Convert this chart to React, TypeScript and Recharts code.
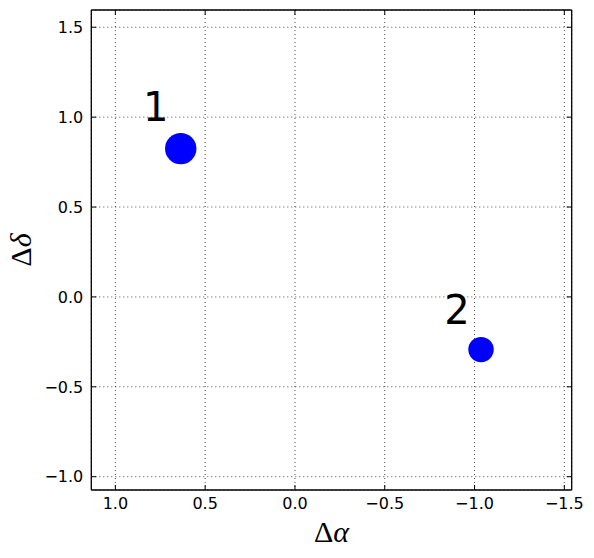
import { ScatterChart, Scatter, XAxis, YAxis, CartesianGrid } from "recharts";

// source positions (offsets in arcsec)
const sourceIds = ["1", "2"];
const deltaAlpha = [0.636, -1.036];
const deltaDelta = [0.825, -0.293];
const markerRadius = [15.7, 12.7];

// where the id labels sit
const labelAlpha = [0.846, -0.832];
const labelDelta = [0.979, -0.148];

const xTicks = [1.0, 0.5, 0.0, -0.5, -1.0, -1.5];
const yTicks = [-1.0, -0.5, 0.0, 0.5, 1.0, 1.5];
const xDomain = [-1.541, 1.134];
const yDomain = [-1.074, 1.596];

const points = sourceIds.map((id, i) => ({
  id,
  x: deltaAlpha[i],
  y: deltaDelta[i],
  r: markerRadius[i],
}));

const labels = sourceIds.map((id, i) => ({
  id,
  x: labelAlpha[i],
  y: labelDelta[i],
}));

const TICK_FONT = "'DejaVu Sans', sans-serif";
const MATH_FONT = "'Liberation Serif', 'DejaVu Serif', serif";
const TICK_LEN = 5;

const fmt = (v: number) => v.toFixed(1).replace("-", "\u2212");

const BottomTick = ({ x, y, payload }: any) => (
  <g>
    <line x1={x} x2={x} y1={y} y2={y - TICK_LEN} stroke="#000" strokeWidth={1} />
    <text x={x} y={y + 18.5} textAnchor="middle" fontFamily={TICK_FONT} fontSize={16} fill="#000">
      {fmt(payload.value)}
    </text>
  </g>
);

const LeftTick = ({ x, y, payload }: any) => (
  <g>
    <line x1={x} x2={x + TICK_LEN} y1={y} y2={y} stroke="#000" strokeWidth={1} />
    <text x={x - 8} y={y + 5.8} textAnchor="end" fontFamily={TICK_FONT} fontSize={16} fill="#000">
      {fmt(payload.value)}
    </text>
  </g>
);

const TopTick = ({ x, y }: any) => (
  <line x1={x} x2={x} y1={y} y2={y + TICK_LEN} stroke="#000" strokeWidth={1} />
);

const RightTick = ({ x, y }: any) => (
  <line x1={x} x2={x - TICK_LEN} y1={y} y2={y} stroke="#000" strokeWidth={1} />
);

const XLabel = ({ viewBox }: any) => (
  <text
    x={viewBox.x + viewBox.width / 2}
    y={viewBox.y + 52}
    textAnchor="middle"
    fontFamily={MATH_FONT}
    fontSize={30}
    fill="#000"
  >
    Δ<tspan fontStyle="italic">α</tspan>
  </text>
);

const YLabel = ({ viewBox }: any) => {
  const cx = 31;
  const cy = viewBox.y + viewBox.height / 2;
  return (
    <text
      x={cx}
      y={cy}
      transform={`rotate(-90, ${cx}, ${cy})`}
      textAnchor="middle"
      fontFamily={MATH_FONT}
      fontSize={30}
      fill="#000"
    >
      Δ<tspan fontStyle="italic">δ</tspan>
    </text>
  );
};

const Dot = (props: any) => (
  <circle cx={props.cx} cy={props.cy} r={props.payload.r} fill="#0000ff" />
);

const IdText = (props: any) => (
  <text x={props.cx} y={props.cy} fontFamily={TICK_FONT} fontSize={40} fill="#000">
    {props.payload.id}
  </text>
);

export default function App() {
  return (
    <div style={{ position: "absolute", left: 0, top: 0, background: "#fff" }}>
      <ScatterChart
        width={594}
        height={558}
        margin={{ top: 0, right: 0, bottom: 0, left: 0 }}
      >
        <CartesianGrid stroke="#000" strokeWidth={0.7} strokeDasharray="1 3" />
        <XAxis
          type="number"
          dataKey="x"
          domain={xDomain}
          ticks={xTicks}
          reversed
          allowDataOverflow
          height={68}
          tickSize={0}
          tickMargin={0}
          tickLine={false}
          axisLine={{ stroke: "#000", strokeWidth: 1.3 }}
          tick={<BottomTick />}
          label={<XLabel />}
        />
        <XAxis
          xAxisId="top"
          orientation="top"
          type="number"
          dataKey="x"
          domain={xDomain}
          ticks={xTicks}
          reversed
          allowDataOverflow
          height={10}
          tickSize={0}
          tickMargin={0}
          tickLine={false}
          axisLine={{ stroke: "#000", strokeWidth: 1.3 }}
          tick={<TopTick />}
        />
        <YAxis
          type="number"
          dataKey="y"
          domain={yDomain}
          ticks={yTicks}
          allowDataOverflow
          width={91.3}
          tickSize={0}
          tickMargin={0}
          tickLine={false}
          axisLine={{ stroke: "#000", strokeWidth: 1.3 }}
          tick={<LeftTick />}
          label={<YLabel />}
        />
        <YAxis
          yAxisId="right"
          orientation="right"
          type="number"
          dataKey="y"
          domain={yDomain}
          ticks={yTicks}
          allowDataOverflow
          width={22.3}
          tickSize={0}
          tickMargin={0}
          tickLine={false}
          axisLine={{ stroke: "#000", strokeWidth: 1.3 }}
          tick={<RightTick />}
        />
        <Scatter data={points} shape={Dot} isAnimationActive={false} />
        <Scatter data={labels} shape={IdText} isAnimationActive={false} />
      </ScatterChart>
    </div>
  );
}
